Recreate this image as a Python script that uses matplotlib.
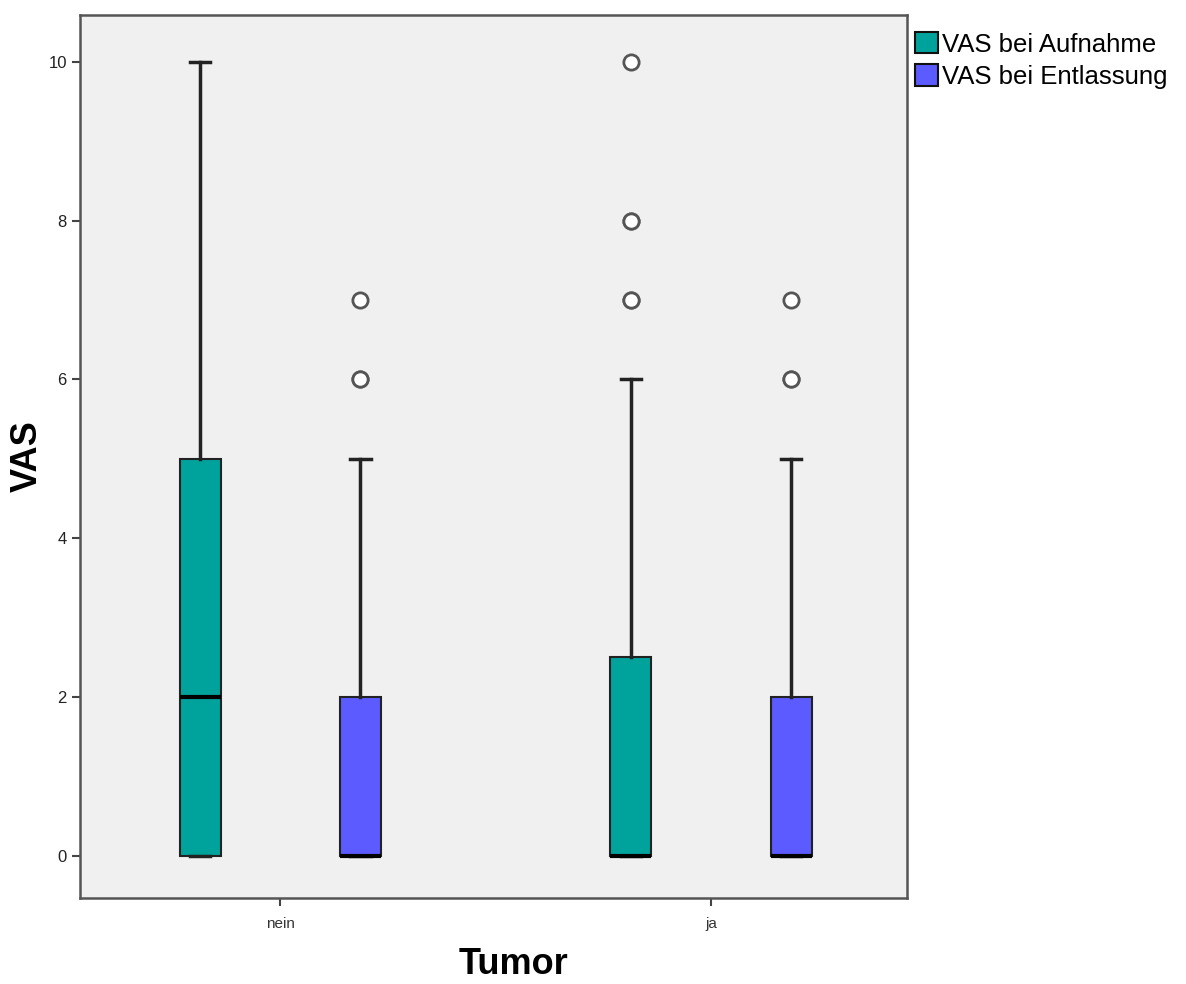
import matplotlib
matplotlib.use("Agg")
import matplotlib.pyplot as plt
import matplotlib.patches as mpatches

plt.rcParams['font.family'] = ['Liberation Sans', 'DejaVu Sans']

groups = ["nein", "ja"]
series = ["VAS bei Aufnahme", "VAS bei Entlassung"]
colors = ["#00A39C", "#5B5BFF"]

# summary stats per group, per series: (whislo, q1, med, q3, whishi)
stats_aufnahme = [(0, 0, 2, 5, 10), (0, 0, 0, 2.5, 6)]
stats_entlassung = [(0, 0, 0, 2, 5), (0, 0, 0, 2, 5)]
fliers_aufnahme = [[], [7, 7, 8, 8, 10]]
fliers_entlassung = [[6, 6, 7], [6, 6, 7]]

fig = plt.figure(figsize=(11.86, 9.84), dpi=100)
ax = fig.add_axes([80 / 1186, 86 / 984, 827 / 1186, 883 / 984])
ax.set_facecolor("#F0F0F0")

offset = 0.186
width = 0.095
for s, (st, fl) in enumerate([(stats_aufnahme, fliers_aufnahme),
                              (stats_entlassung, fliers_entlassung)]):
    bxp_stats = []
    for g in range(len(groups)):
        lo, q1, med, q3, hi = st[g]
        bxp_stats.append(dict(whislo=lo, q1=q1, med=med, q3=q3, whishi=hi,
                              fliers=fl[g]))
    pos = [g + 1 + (offset if s else -offset) for g in range(len(groups))]
    ax.bxp(bxp_stats, positions=pos, widths=width, patch_artist=True,
           boxprops=dict(facecolor=colors[s], edgecolor="#222222", linewidth=1.5),
           medianprops=dict(color="black", linewidth=3),
           whiskerprops=dict(color="#222222", linewidth=2.5),
           capprops=dict(color="#222222", linewidth=2.5),
           capwidths=width * 0.5,
           flierprops=dict(marker="o", markersize=11, markerfacecolor="white",
                           markeredgecolor="#555555", markeredgewidth=2.0),
           manage_ticks=False, zorder=3)

ax.set_xlim(0.535, 2.455)
ax.set_ylim(-0.53, 10.59)
ax.set_xticks([1, 2])
ax.set_xticklabels(groups, fontsize=11, color="#333333")
ax.set_yticks([0, 2, 4, 6, 8, 10])
ax.tick_params(axis="y", labelsize=12, length=6, width=1.5, color="#444444",
               labelcolor="#222222")
ax.tick_params(axis="x", length=6, width=1.5, color="#444444", pad=8)
for sp in ax.spines.values():
    sp.set_color("#555555")
    sp.set_linewidth(1.8)

ax.set_ylabel("VAS", fontsize=26, fontweight="bold", labelpad=2.5)
ax.set_xlabel("Tumor", fontsize=26, fontweight="bold")
ax.xaxis.set_label_coords(0.524, -0.055)

handles = [mpatches.Patch(facecolor=c, edgecolor="#111111", linewidth=1.5, label=l)
           for c, l in zip(colors, series)]
fig.legend(handles=handles, loc="upper left", bbox_to_anchor=(897 / 1186, 1 - 14 / 984),
           frameon=False, fontsize=18.5, handlelength=0.9, handleheight=0.9,
           handletextpad=0.15, labelspacing=0.3, borderpad=0.2)

fig.savefig("out.png", dpi=100)
